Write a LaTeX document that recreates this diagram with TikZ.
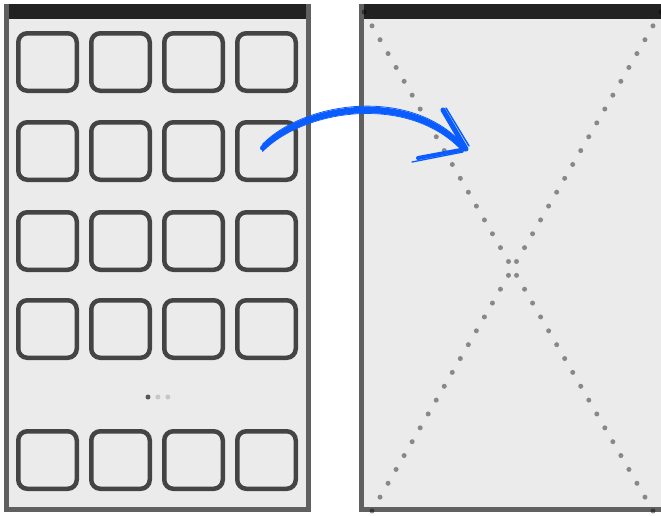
\documentclass[tikz,border=0pt]{standalone}
\usepackage{tikz}
\usetikzlibrary{positioning,calc}
\definecolor{frameG}{HTML}{606060}
\definecolor{screenG}{HTML}{EBEBEB}
\definecolor{barK}{HTML}{222222}
\definecolor{iconG}{HTML}{444444}
\definecolor{swipeB}{HTML}{0A5CFF}

\begin{document}
\begin{tikzpicture}[x=1pt,y=-1pt,
  icon/.style={draw=iconG,line width=4.5pt,rounded corners=9pt,
    minimum width=58.5pt,minimum height=57.5pt,inner sep=0pt},
  pagedot/.style={circle,inner sep=0pt,minimum size=5pt},
  xdot/.style={fill=black,opacity=0.42},
  brush/.style={swipeB,line cap=round,line join=round}]
  \useasboundingbox (0,0) rectangle (661,515);
  % home screen
  \fill[screenG] (6,6) rectangle (308,509);
  \draw[frameG,line width=5pt] (6,6) rectangle (308,509);
  \fill[barK] (8.5,4) rectangle (305.5,19);
  \foreach \r/\yy in {1/62,2/151,3/241,4/329,5/460}{
    \foreach \c in {1,...,4}{
      \node[icon] (i-\r-\c) at ({47.5+73*(\c-1)},\yy) {};
    }
  }
  \node[pagedot,fill=iconG!90] (p1) at (148,397) {};
  \node[pagedot,fill=black!22,right=4.5pt of p1] (p2) {};
  \node[pagedot,fill=black!22,right=4.5pt of p2] (p3) {};
  % opened app
  \coordinate (nw) at (364,12);
  \coordinate (ne) at (661,12);
  \coordinate (sw) at (372,511);
  \coordinate (se) at (653,511);
  \fill[screenG] (361.5,6) rectangle (668,509);
  \draw[frameG,line width=5pt] (361.5,6) rectangle (668,509);
  \fill[barK] (364,4) rectangle (665,19);
  \foreach \k in {0,...,36}{
    \fill[xdot] ($(nw)!\k/36!(se)$) circle (2.5);
    \fill[xdot] ($(ne)!\k/36!(sw)$) circle (2.5);
  }
  % swipe
  \coordinate (tip) at (466,149);
  \coordinate (s0) at ($(i-2-4.center)+(-4,-3)$);
  \foreach \d/\w in {0/5,-2.4/1.6,2.6/1.4,-3.8/0.8,3.6/0.7}{
    \draw[brush,line width=\w pt] ($(s0)+(0,\d)$) .. controls (305,{105+\d}) and (410,{90+\d}) .. ($(tip)+(-3,{\d-1})$);
  }
  \draw[brush,line width=5pt] (443,110) -- (tip);
  \draw[brush,line width=1.5pt] (446,108) -- (469,146);
  \draw[brush,line width=4pt] (tip) -- (418,158);
  \draw[brush,line width=1.3pt] (463,152) -- (412,162);
\end{tikzpicture}
\end{document}
